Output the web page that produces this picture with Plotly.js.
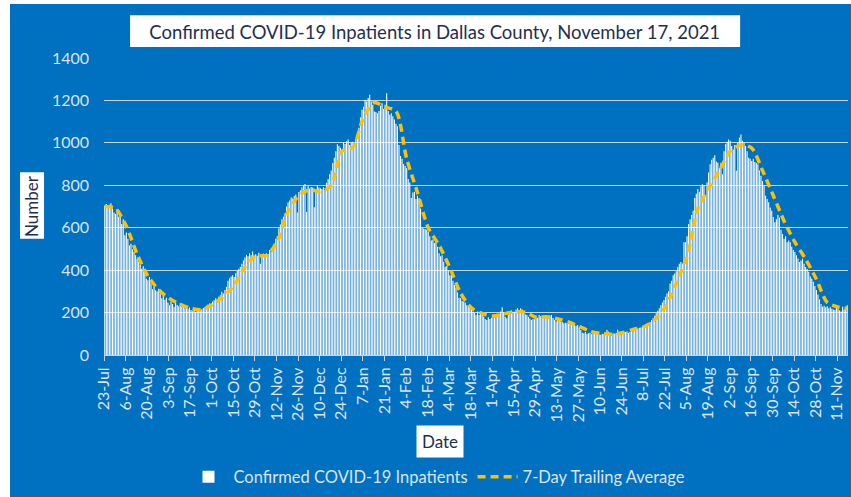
<!DOCTYPE html>
<html><head><meta charset="utf-8">
<script src="https://cdn.plot.ly/plotly-3.0.1.min.js"></script>
<style>
html,body{margin:0;padding:0;background:#fff;width:851px;height:497px;overflow:hidden}
#chart{position:absolute;left:10px;top:4px;width:841px;height:493px}
</style></head><body><div id="chart"></div>
<script>
// First reported day of the series
const startDate = [2020, 6, 23]; // 23-Jul-2020 (month 0-based)

// Daily confirmed COVID-19 inpatients, 23-Jul-2020 .. 17-Nov-2021 (one row = one week)
const dailyInpatients = [
  705, 712, 698, 708, 715, 690, 672,
  665, 688, 652, 660, 618, 640, 565,
  578, 548, 516, 525, 498, 485, 470,
  454, 440, 425, 407, 418, 392, 360,
  352, 368, 338, 310, 322, 305, 300,
  312, 290, 267, 282, 260, 270, 248,
  235, 252, 240, 228, 248, 236, 230,
  244, 226, 235, 220, 230, 218, 224,
  212, 206, 215, 204, 218, 212, 208,
  216, 222, 225, 232, 238, 243, 236,
  252, 258, 267, 262, 275, 282, 298,
  290, 306, 322, 350, 362, 370, 376,
  368, 385, 396, 407, 415, 430, 445,
  460, 472, 466, 480, 470, 488, 462,
  475, 468, 482, 430, 470, 478, 472,
  480, 476, 495, 488, 505, 525, 548,
  560, 598, 615, 640, 652, 668, 700,
  720, 728, 742, 738, 750, 756, 672,
  768, 775, 790, 800, 806, 674, 797,
  785, 792, 790, 697, 780, 798, 790,
  786, 782, 790, 778, 812, 830, 852,
  870, 905, 930, 960, 993, 985, 977,
  960, 1001, 995, 1008, 1016, 990, 1001,
  1005, 993, 1020, 1040, 1071, 1120, 1156,
  1170, 1203, 1195, 1212, 1227, 1195, 1180,
  1148, 1145, 1140, 1150, 1175, 1187, 1160,
  1180, 1234, 1150, 1133, 1140, 1125, 1110,
  1090, 1078, 990, 938, 925, 900, 891,
  880, 830, 813, 740, 766, 770, 735,
  751, 740, 690, 600, 596, 594, 590,
  580, 560, 540, 545, 528, 532, 510,
  480, 465, 470, 440, 416, 420, 400,
  376, 378, 350, 330, 318, 295, 270,
  268, 255, 252, 248, 235, 228, 222,
  220, 205, 198, 190, 205, 189, 198,
  195, 182, 170, 165, 178, 170, 175,
  185, 178, 181, 190, 196, 205, 225,
  200, 180, 173, 190, 197, 210, 204,
  204, 215, 220, 210, 220, 215, 200,
  192, 189, 180, 172, 165, 170, 168,
  172, 176, 189, 183, 186, 180, 178,
  181, 178, 186, 189, 175, 165, 158,
  170, 162, 158, 155, 150, 152, 150,
  148, 152, 145, 140, 142, 138, 142,
  128, 118, 105, 103, 108, 100, 103,
  105, 98, 102, 108, 103, 100, 97,
  95, 100, 98, 105, 119, 110, 98,
  98, 102, 100, 105, 119, 104, 98,
  103, 100, 108, 112, 105, 110, 115,
  112, 118, 119, 125, 128, 130, 134,
  136, 140, 145, 150, 156, 165, 173,
  185, 197, 208, 220, 235, 248, 259,
  275, 290, 300, 337, 350, 376, 384,
  395, 415, 430, 438, 431, 532, 532,
  560, 618, 640, 660, 680, 740, 760,
  782, 770, 795, 805, 800, 750, 813,
  860, 899, 920, 930, 941, 912, 906,
  880, 905, 852, 960, 993, 1005, 1016,
  1010, 985, 969, 990, 868, 1000, 1025,
  1039, 1010, 1001, 985, 960, 930, 925,
  914, 925, 910, 905, 899, 870, 845,
  820, 798, 751, 735, 720, 695, 680,
  650, 626, 640, 660, 648, 590, 570,
  548, 560, 532, 540, 532, 510, 495,
  485, 470, 455, 438, 445, 454, 430,
  415, 405, 392, 370, 360, 345, 325,
  306, 285, 262, 240, 228, 232, 225,
  230, 220, 225, 218, 215, 212, 222,
  218, 210, 205, 228, 215, 220, 235
];

// 7-day trailing average (day offsets from start date)
const avgDays = [0,7,14,21,28,35,42,49,56,63,70,77,84,91,98,105,112,119,126,133,
  140,147,154,161,168,175,182,189,196,203,210,217,224,231,238,245,252,259,266,273,
  280,287,294,301,308,315,322,329,336,343,350,357,364,371,378,385,392,399,406,413,
  420,427,434,441,448,455,462,469,476,482];
const trailingAverage = [700,690,607,475,372,308,266,239,220,214,
  238,277,329,415,467,470,535,677,751,779,
  770,800,961,978,1120,1190,1168,1150,925,766,
  600,518,412,292,222,196,184,194,203,202,
  178,180,170,156,135,112,102,98,105,121,
  133,167,228,339,464,688,785,870,960,990,
  975,870,752,632,532,452,357,248,226,220];

const seriesNames = ['Confirmed COVID-19 Inpatients', '7-Day Trailing Average'];
const chartTitle = 'Confirmed COVID-19 Inpatients in Dallas County, November 17, 2021';

function dayToDate(d) {
  const t = Date.UTC(startDate[0], startDate[1], startDate[2]) + d * 86400000 + 12 * 3600000;
  return new Date(t).toISOString().slice(0, 19).replace('T', ' ');
}
const barDates = dailyInpatients.map((v, i) => dayToDate(i));
const avgDates = avgDays.map(d => dayToDate(d));

const FONT = 'Lato, "Open Sans", sans-serif';
const LIGHT = '#DCE4EF';
const DARK = '#1F2F4F';
const BLUE = '#0070C0';

const traces = [
  {type: 'bar', name: seriesNames[0], x: barDates, y: dailyInpatients,
   marker: {color: '#FFFFFF', line: {width: 0}}, hoverinfo: 'x+y'},
  {type: 'scatter', mode: 'lines', name: seriesNames[1], x: avgDates, y: trailingAverage,
   line: {color: '#FFC000', width: 3.5, dash: '8px,5px', shape: 'spline', smoothing: 0.8}}
];

const layout = {
  width: 841, height: 493,
  margin: {l: 94, r: 3, t: 54, b: 140},
  paper_bgcolor: BLUE, plot_bgcolor: BLUE,
  font: {family: FONT, color: LIGHT, size: 15},
  bargap: 0.3,
  showlegend: true,
  title: {text: chartTitle, font: {family: FONT, size: 18.5, color: DARK},
          x: 0.505, xanchor: 'center', y: 0.943, yanchor: 'middle', xref: 'container', yref: 'container'},
  xaxis: {
    type: 'date',
    range: [dayToDate(-0.5), dayToDate(482.5)],
    tick0: dayToDate(-0.5), dtick: 14 * 86400000,
    tickformat: '%-d-%b', tickangle: -90,
    ticks: 'outside', ticklen: 5, tickcolor: '#C9D3E0', tickwidth: 1,
    showline: true, linecolor: '#C9D3E0', linewidth: 1,
    showgrid: false, zeroline: false,
    tickfont: {family: FONT, size: 16, color: LIGHT}
  },
  yaxis: {
    range: [0, 1400], dtick: 200, tick0: 0,
    showgrid: true, gridcolor: 'rgba(220,225,232,0.9)', gridwidth: 1,
    zeroline: false, showline: false, ticks: '',
    ticklabelstandoff: 14,
    tickfont: {family: FONT, size: 16, color: LIGHT},
    title: {text: 'Number', font: {family: FONT, size: 17, color: DARK}, standoff: 8}
  },
  legend: {orientation: 'h', x: 0.4476, xanchor: 'center', y: -0.411, yanchor: 'middle',
           font: {family: FONT, size: 16.5, color: LIGHT}, bgcolor: 'rgba(0,0,0,0)',
           itemwidth: 40, tracegroupgap: 0},
  annotations: [
    {text: 'Date', xref: 'paper', yref: 'paper', x: 0.4516, y: -0.2926, xanchor: 'center', yanchor: 'middle',
     showarrow: false, bgcolor: '#FFFFFF', borderpad: 5,
     font: {family: FONT, size: 17, color: DARK}}
  ],
  shapes: [
    {type: 'rect', xref: 'paper', yref: 'paper', x0: 0.035, x1: 0.855, y0: 1.0368, y1: 1.1438,
     fillcolor: '#FFFFFF', line: {width: 0}, layer: 'above'},
    {type: 'rect', xref: 'paper', yref: 'paper', x0: -0.1129, x1: -0.0806, y0: 0.3913, y1: 0.6154,
     fillcolor: '#FFFFFF', line: {width: 0}, layer: 'above'}
  ]
};

Plotly.newPlot('chart', traces, layout, {displayModeBar: false, responsive: false, staticPlot: true});
</script></body></html>
